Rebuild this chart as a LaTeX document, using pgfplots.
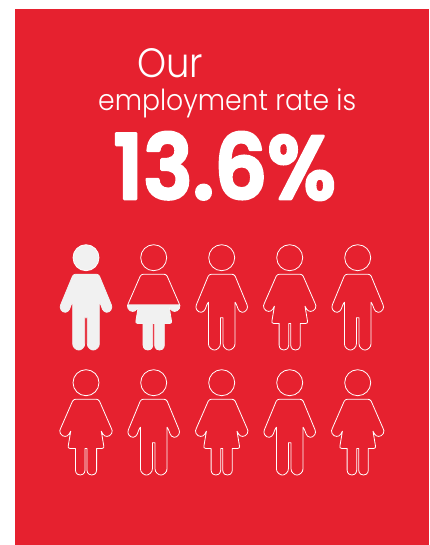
\documentclass[border=0pt]{standalone}
\usepackage{pgfplots}
\usepackage{pgfplotstable}
\usepackage{fontspec}
\pgfplotsset{compat=1.18}
\newfontfamily\lightfont{Poppins}[UprightFont=* Light]
\newfontfamily\heavyfont{Poppins}[UprightFont=* SemiBold]
\definecolor{panel}{HTML}{E6212F}
\definecolor{solid}{HTML}{F1F1F1}

% Outline of the man, relative to the centre of the head
\pgfplotstableread{
dx dy
-10 16.5
10 16.5
12 17
13.5 18.5
25.3 47
25.8 49.5
25 52
23 54
20.5 54.6
18 53.5
16.5 51.5
15 47.5
14 45.5
13.3 44.5
13.3 86
12.8 88.5
11.2 90.6
9 92
7.3 92.3
5.5 92
3.4 90.6
1.8 88.5
1.3 86
1.3 60
-1.3 60
-1.3 86
-1.8 88.5
-3.4 90.6
-5.5 92
-7.3 92.3
-9 92
-11.2 90.6
-12.8 88.5
-13.3 86
-13.3 44.5
-14 45.5
-15 47.5
-16.5 51.5
-18 53.5
-20.5 54.6
-23 54
-25 52
-25.8 49.5
-25.3 47
-13.5 18.5
-12 17
}\manshape

% Outline of the woman
\pgfplotstableread{
dx dy
-10 16.5
10 16.5
12 17
13.5 18.5
25.3 45.5
26.2 48
25.6 50.8
23.5 53
21 53.7
18.8 53.2
17 51.5
15.3 48.5
17.8 63.5
17.6 65
16 65.8
10.6 65.8
10.6 87.5
10 89.9
8.6 91.5
5.8 92.3
3 91.5
1.6 89.9
1 87.5
1 65.8
-1 65.8
-1 87.5
-1.6 89.9
-3 91.5
-5.8 92.3
-8.6 91.5
-10 89.9
-10.6 87.5
-10.6 65.8
-16 65.8
-17.6 65
-17.8 63.5
-15.3 48.5
-17 51.5
-18.8 53.2
-21 53.7
-23.5 53
-25.6 50.8
-26.2 48
-25.3 45.5
-13.5 18.5
-12 17
}\womanshape

% The part of the woman's outline under the employment level
\pgfplotstableread{
dx dy
-25.9 46.6
25.9 46.6
26.2 48
25.6 50.8
23.5 53
21 53.7
18.8 53.2
17 51.5
15.3 48.5
17.8 63.5
17.6 65
16 65.8
10.6 65.8
10.6 87.5
10 89.9
8.6 91.5
5.8 92.3
3 91.5
1.6 89.9
1 87.5
1 65.8
-1 65.8
-1 87.5
-1.6 89.9
-3 91.5
-5.8 92.3
-8.6 91.5
-10 89.9
-10.6 87.5
-10.6 65.8
-16 65.8
-17.6 65
-17.8 63.5
-15.3 48.5
-17 51.5
-18.8 53.2
-21 53.7
-23.5 53
-25.6 50.8
-26.2 48
}\womanlower

\newcommand{\person}[5]{% shape, head x, head y, body style, head fill
  \addplot[white,line width=0.8pt,line join=round,#4]
    table[x expr=\thisrow{dx}+#2,y expr=\thisrow{dy}+#3]{#1} -- cycle;
  \addplot[only marks,mark=*,mark size=13pt,
    mark options={draw=white,line width=0.8pt,fill=#5}]
    coordinates {(#2,#3)};
}

\begin{document}
\begin{tikzpicture}
\begin{axis}[
  x=1pt,y=1pt,
  xmin=0,xmax=430,ymin=0,ymax=545,
  y dir=reverse,
  hide axis,
  clip=false,
  scale only axis,
]
\path (rel axis cs:0,0) rectangle (rel axis cs:1,1);
\addplot[fill=panel,draw=none] coordinates {(15,9) (429,9) (429,545) (15,545)} -- cycle;

\person{\manshape}{86}{257.7}{draw=solid,fill=solid}{solid}
\person{\womanshape}{153.7}{257.7}{fill=none}{panel}
\addplot[fill=solid,draw=none]
  table[x expr=\thisrow{dx}+153.7,y expr=\thisrow{dy}+257.7]{\womanlower} -- cycle;
\person{\manshape}{221.7}{257.7}{fill=none}{panel}
\person{\womanshape}{289.7}{257.7}{fill=none}{panel}
\person{\manshape}{357.7}{257.7}{fill=none}{panel}

\person{\womanshape}{86}{382.7}{fill=none}{panel}
\person{\manshape}{153.7}{382.7}{fill=none}{panel}
\person{\womanshape}{221.7}{382.7}{fill=none}{panel}
\person{\manshape}{289.7}{382.7}{fill=none}{panel}
\person{\womanshape}{357.7}{382.7}{fill=none}{panel}

\node[anchor=base west,inner sep=0pt,text=white,font=\lightfont\addfontfeature{FakeStretch=0.9}\fontsize{41}{41}\selectfont] at (axis cs:137,78) {Our};
\node[anchor=base west,inner sep=0pt,text=white,font=\lightfont\addfontfeature{FakeStretch=0.92}\fontsize{29}{29}\selectfont] at (axis cs:98,111) {employment rate is};
\node[anchor=base west,inner sep=0pt,text=white,font=\heavyfont\addfontfeature{FakeStretch=0.92,FakeBold=3}\fontsize{90}{90}\selectfont] at (axis cs:113,199) {\special{pdf:code 1 j 1 J}13.6\%};
\end{axis}
\end{tikzpicture}
\end{document}
